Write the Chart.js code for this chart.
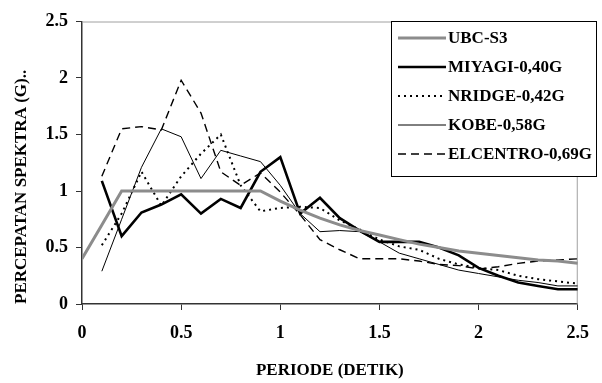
<!DOCTYPE html>
<html>
<head>
<meta charset="utf-8">
<script src="https://cdn.jsdelivr.net/npm/chart.js@4/dist/chart.umd.min.js"></script>
<style>
  html, body { margin: 0; padding: 0; background: #fff; }
  #wrap { width: 602px; height: 383px; position: relative; }
</style>
</head>
<body>
<div id="wrap"><canvas id="c" width="602" height="383"></canvas></div>
<script>
// Periode (detik) untuk rekaman gempa dan spektrum desain
const periodeUBC = [0, 0.1, 0.2, 0.3, 0.4, 0.5, 0.6, 0.7, 0.8, 0.9, 1.0, 1.1, 1.2, 1.3, 1.4, 1.5, 1.6, 1.7, 1.8, 1.9, 2.0, 2.1, 2.2, 2.3, 2.4, 2.5];
const periodeGempa = [0.1, 0.2, 0.3, 0.4, 0.5, 0.6, 0.7, 0.8, 0.9, 1.0, 1.1, 1.2, 1.3, 1.4, 1.5, 1.6, 1.7, 1.8, 1.9, 2.0, 2.1, 2.2, 2.3, 2.4, 2.5];

// Percepatan spektra (g)
const ubcS3 = [0.40, 0.70, 1.00, 1.00, 1.00, 1.00, 1.00, 1.00, 1.00, 1.00, 0.91, 0.83, 0.76, 0.70, 0.65, 0.61, 0.57, 0.53, 0.50, 0.47, 0.45, 0.43, 0.41, 0.39, 0.38, 0.36];
const miyagi = [1.09, 0.60, 0.81, 0.88, 0.97, 0.80, 0.93, 0.85, 1.17, 1.30, 0.80, 0.94, 0.76, 0.65, 0.55, 0.55, 0.55, 0.50, 0.43, 0.32, 0.25, 0.19, 0.16, 0.13, 0.13];
const nridge = [0.52, 0.80, 1.17, 0.87, 1.13, 1.33, 1.50, 1.05, 0.82, 0.85, 0.86, 0.85, 0.74, 0.66, 0.57, 0.51, 0.48, 0.40, 0.35, 0.32, 0.30, 0.25, 0.22, 0.20, 0.18];
const kobe = [0.29, 0.75, 1.21, 1.55, 1.48, 1.11, 1.36, 1.31, 1.26, 1.05, 0.80, 0.64, 0.65, 0.64, 0.55, 0.45, 0.40, 0.35, 0.30, 0.27, 0.24, 0.21, 0.19, 0.16, 0.16];
const elcentro = [1.13, 1.55, 1.57, 1.54, 1.98, 1.69, 1.17, 1.05, 1.16, 0.99, 0.79, 0.57, 0.48, 0.40, 0.40, 0.40, 0.38, 0.35, 0.34, 0.31, 0.33, 0.36, 0.38, 0.39, 0.40];

const seriesNames = ['UBC-S3', 'MIYAGI-0,40G', 'NRIDGE-0,42G', 'KOBE-0,58G', 'ELCENTRO-0,69G'];
const xTickLabels = ['0', '0.5', '1', '1.5', '2', '2.5'];
const yTickLabels = ['0', '0.5', '1', '1.5', '2', '2.5'];
const xTitle = 'PERIODE (DETIK)';
const yTitle = 'PERCEPATAN SPEKTRA (G)..';

const FONT = "'Liberation Serif', 'Times New Roman', serif";

const toPoints = (xs, ys) => xs.map((x, i) => ({ x: x, y: ys[i] }));

function lineSet(label, xs, ys, color, width, dash) {
  return {
    label: label,
    data: toPoints(xs, ys),
    borderColor: color,
    backgroundColor: color,
    borderWidth: width,
    borderDash: dash,
    pointRadius: 0,
    pointHoverRadius: 0,
    tension: 0,
    fill: false,
    borderCapStyle: 'butt',
    borderJoinStyle: 'miter'
  };
}

// Garis tepi atas dan kanan area plot (abu-abu)
const plotFrame = {
  id: 'plotFrame',
  beforeDatasetsDraw(chart) {
    const { ctx, chartArea: a } = chart;
    ctx.save();
    ctx.strokeStyle = '#a0a0a0';
    ctx.lineWidth = 1;
    ctx.beginPath();
    ctx.moveTo(a.left, a.top + 0.5);
    ctx.lineTo(a.right - 0.5, a.top + 0.5);
    ctx.lineTo(a.right - 0.5, a.bottom);
    ctx.stroke();
    ctx.restore();
  }
};

// Kotak legenda di pojok kanan atas
const legendBox = {
  id: 'legendBox',
  afterDraw(chart) {
    const { ctx } = chart;
    const bx = 391.5, by = 21.5, bw = 205, bh = 155;
    ctx.save();
    ctx.fillStyle = '#ffffff';
    ctx.fillRect(bx, by, bw, bh);
    ctx.strokeStyle = '#000000';
    ctx.lineWidth = 1;
    ctx.setLineDash([]);
    ctx.strokeRect(bx, by, bw, bh);
    const rowY = [38, 67, 96, 125, 154];
    chart.data.datasets.forEach((ds, i) => {
      const y = rowY[i];
      ctx.strokeStyle = ds.borderColor;
      ctx.lineWidth = ds.borderWidth;
      ctx.setLineDash(ds.borderDash || []);
      ctx.beginPath();
      ctx.moveTo(398, y);
      ctx.lineTo(446, y);
      ctx.stroke();
      ctx.setLineDash([]);
      ctx.fillStyle = '#000000';
      ctx.font = 'bold 17px ' + FONT;
      ctx.textBaseline = 'middle';
      ctx.textAlign = 'left';
      ctx.fillText(ds.label, 448, y + 1);
    });
    ctx.restore();
  }
};

new Chart(document.getElementById('c'), {
  type: 'line',
  data: {
    datasets: [
      lineSet(seriesNames[0], periodeUBC, ubcS3, '#8c8c8c', 3, []),
      lineSet(seriesNames[1], periodeGempa, miyagi, '#000000', 2.6, []),
      lineSet(seriesNames[2], periodeGempa, nridge, '#000000', 2, [2, 4]),
      lineSet(seriesNames[3], periodeGempa, kobe, '#000000', 1, []),
      lineSet(seriesNames[4], periodeGempa, elcentro, '#000000', 1.4, [8, 5])
    ]
  },
  options: {
    responsive: false,
    animation: false,
    events: [],
    layout: { padding: { top: 21.5, right: 20, left: 0, bottom: 0 } },
    plugins: {
      legend: { display: false },
      tooltip: { enabled: false },
      title: { display: false }
    },
    scales: {
      x: {
        type: 'linear',
        min: 0,
        max: 2.5,
        afterFit(s) { s.height = 79; },
        grid: { drawOnChartArea: false, drawTicks: true, tickLength: 6, color: '#333333' },
        border: { display: true, color: '#333333', width: 1.5 },
        ticks: {
          stepSize: 0.5,
          padding: 13,
          color: '#000000',
          font: { family: FONT, size: 18, weight: 'bold' },
          maxRotation: 0,
          callback: (v, i) => xTickLabels[i]
        },
        title: {
          display: true,
          text: xTitle,
          color: '#000000',
          font: { family: FONT, size: 17, weight: 'bold' },
          padding: { top: 0, bottom: 2 }
        }
      },
      y: {
        type: 'linear',
        min: 0,
        max: 2.5,
        afterFit(s) { s.width = 82; },
        grid: { drawOnChartArea: false, drawTicks: true, tickLength: 6, color: '#333333' },
        border: { display: true, color: '#333333', width: 1.5 },
        ticks: {
          stepSize: 0.5,
          padding: 8,
          color: '#000000',
          font: { family: FONT, size: 18, weight: 'bold' },
          callback: (v, i) => yTickLabels[i]
        },
        title: {
          display: true,
          text: yTitle,
          align: 'start',
          color: '#000000',
          font: { family: FONT, size: 17, weight: 'bold' },
          padding: { top: 11, bottom: 0 }
        }
      }
    }
  },
  plugins: [plotFrame, legendBox]
});
</script>
</body>
</html>
